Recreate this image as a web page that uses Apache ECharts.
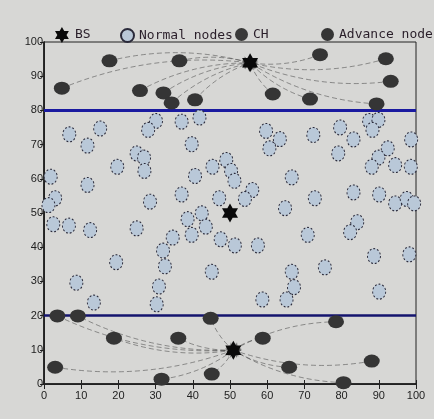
<!DOCTYPE html>
<html><head><meta charset="utf-8">
<script src="https://cdn.jsdelivr.net/npm/echarts@6/dist/echarts.min.js"></script>
<style>html,body{margin:0;padding:0;background:#d7d7d5}#c{width:434px;height:419px}</style>
</head><body><div id="c"></div>
<script>
// ---- data ----
const axisTicks = [0,10,20,30,40,50,60,70,80,90,100];
const normalX = [30.1,28.0,37.0,41.8,6.8,15.1,11.7,39.7,24.9,26.9,19.7,27.0,45.3,49.0,40.6,1.8,11.7,3.0,1.2,28.5,37.0,47.1,42.4,38.6,43.5,39.7,2.5,6.7,12.4,24.9,34.6,47.5,32.0,
  59.7,63.4,60.6,72.4,79.6,83.2,79.1,87.4,89.9,88.3,92.4,98.7,89.9,88.1,94.4,98.6,50.3,51.2,66.6,56.0,54.0,72.8,83.2,90.1,94.4,97.5,99.5,64.8,84.2,82.3,70.9,51.3,57.5,
  45.1,88.7,98.2,75.5,66.6,67.2,65.2,58.7,90.1,19.4,32.5,8.7,30.9,13.4,30.3];
const normalY = [76.9,74.3,76.7,77.9,73.0,74.7,69.7,70.1,67.4,66.2,63.5,62.3,63.5,65.5,60.8,60.6,58.2,54.3,52.3,53.3,55.4,54.3,49.9,48.2,46.0,43.6,46.7,46.3,45.0,45.5,42.8,42.3,39.0,
  74.0,71.6,68.9,72.8,75.0,71.5,67.4,76.9,77.2,74.3,68.9,71.5,66.2,63.5,64.0,63.5,62.3,59.4,60.4,56.7,54.1,54.3,56.0,55.4,52.8,54.1,52.8,51.4,47.3,44.4,43.6,40.5,40.5,
  32.8,37.4,37.9,34.1,32.8,28.3,24.7,24.7,27.0,35.6,34.4,29.6,28.5,23.8,23.3];
const topNodeX = [17.6,36.4,4.8,25.8,32.1,34.3,40.6,74.2,91.9,93.2,61.5,71.5,89.4];
const topNodeY = [94.5,94.5,86.5,85.8,85.1,82.2,83.1,96.3,95.1,88.5,84.8,83.3,81.9];
const botNodeX = [3.6,9.1,44.8,18.8,36.1,3.0,31.6,45.1,78.5,58.8,88.1,65.9,80.5];
const botNodeY = [19.9,19.9,19.2,13.4,13.4,4.9,1.4,2.9,18.2,13.4,6.7,4.9,0.4];
const bsX = [55.4, 50.0, 50.9];
const bsY = [93.9, 50.0, 9.9];
const boundaryY = [80, 20];

// ---- build ----
const starPath = 'path://M0,-10 L8.66,5 L-8.66,5 Z M0,10 L-8.66,-5 L8.66,-5 Z';
const normalData = normalX.map((x,i)=>[x, normalY[i]]);
const advData = topNodeX.map((x,i)=>[x, topNodeY[i]]).concat(botNodeX.map((x,i)=>[x, botNodeY[i]]));
const bsData = bsX.map((x,i)=>[x, bsY[i]]);
const toBS = [], fromBS = [];
topNodeX.forEach((x,i)=>{ toBS.push({coords:[[x, topNodeY[i]], bsData[0]]}); });
botNodeX.forEach((x,i)=>{
  const p = [x, botNodeY[i]], b = bsData[2];
  if (x < b[0] || p[1] > b[1]) fromBS.push({coords:[b, p]});
  else toBS.push({coords:[p, b]});
});
const lineStyle = {color:'#3a3a3a', width:1, type:[5,3], curveness:0.13};
const lab = {fontFamily:'Liberation Sans', fontSize:11, color:'#222'};
const baseX = {type:'value', min:0, max:100, interval:10};

const chart = echarts.init(document.getElementById('c'), null, {renderer:'canvas'});
chart.setOption({
  backgroundColor:'#d7d7d5',
  animation:false,
  grid:{left:44, right:18, top:42, bottom:35, show:true, borderColor:'#222', borderWidth:1},
  legend:[
    {data:['BS'], left:50, top:22, itemWidth:16, itemHeight:16, textStyle:{fontFamily:'DejaVu Sans Mono', fontSize:13, color:'#2a1f2a'}},
    {data:['Normal nodes'], left:115, top:23, itemWidth:13, itemHeight:14, textStyle:{fontFamily:'DejaVu Sans Mono', fontSize:13, color:'#2a1f2a'}},
    {data:['CH'], left:230, top:23, itemWidth:13, itemHeight:14, textStyle:{fontFamily:'DejaVu Sans Mono', fontSize:13, color:'#2a1f2a'}},
    {data:['Advance node'], left:316, top:23, itemWidth:13, itemHeight:14, textStyle:{fontFamily:'DejaVu Sans Mono', fontSize:13, color:'#2a1f2a'}}
  ],
  xAxis:[
    Object.assign({}, baseX, {position:'bottom', axisLine:{lineStyle:{color:'#111', width:1.5}}, axisTick:{inside:true, length:4, lineStyle:{color:'#222'}}, axisLabel:Object.assign({margin:6, formatter:v=>String(v)}, lab), splitLine:{show:false}}),
    Object.assign({}, baseX, {position:'top', axisLine:{lineStyle:{color:'#222'}}, axisTick:{inside:true, length:5, lineStyle:{color:'#222'}}, axisLabel:{show:false}, splitLine:{show:false}})
  ],
  yAxis:[
    Object.assign({}, baseX, {position:'left', axisLine:{lineStyle:{color:'#111', width:1.5}}, axisTick:{inside:false, length:3, lineStyle:{color:'#222'}}, axisLabel:Object.assign({margin:1}, lab), splitLine:{show:false}}),
    Object.assign({}, baseX, {position:'right', axisLine:{lineStyle:{color:'#222'}}, axisTick:{inside:true, length:4, lineStyle:{color:'#222'}}, axisLabel:{show:false}, splitLine:{show:false}})
  ],
  series:[
    {type:'line', name:'b80', data:[[axisTicks[0], boundaryY[0]],[axisTicks[10], boundaryY[0]]], symbol:'none', lineStyle:{color:'#1a1aa0', width:3}, z:2, silent:true},
    {type:'line', name:'b20', data:[[axisTicks[0], boundaryY[1]],[axisTicks[10], boundaryY[1]]], symbol:'none', lineStyle:{color:'#14146e', width:2.5}, z:2, silent:true},
    {type:'lines', coordinateSystem:'cartesian2d', data:toBS, lineStyle:lineStyle, symbol:['none','arrow'], symbolSize:7, z:3, silent:true},
    {type:'lines', coordinateSystem:'cartesian2d', data:fromBS, lineStyle:lineStyle, symbol:['arrow','none'], symbolSize:7, z:3, silent:true},
    {type:'scatter', name:'Normal nodes', data:normalData, symbol:'circle', symbolSize:[13,15], itemStyle:{color:'#b9c8d8', borderColor:'#2a2a3a', borderWidth:1, borderType:[2,2], opacity:1}, z:4},
    {type:'scatter', name:'CH', data:[], symbol:'circle', itemStyle:{color:'#111'}},
    {type:'scatter', name:'Advance node', data:advData, symbol:'circle', symbolSize:[16,13], itemStyle:{color:'#353535', opacity:1}, z:5},
    {type:'scatter', name:'BS', data:bsData, symbol:starPath, symbolSize:[16,19], itemStyle:{color:'#0a0a0a', opacity:1}, z:6}
  ]
});
</script></body></html>
